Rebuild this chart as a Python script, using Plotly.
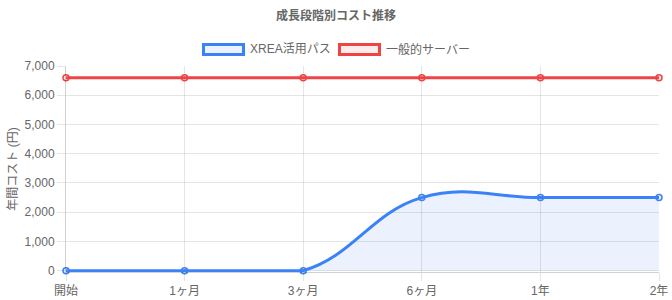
import plotly.graph_objects as go

categories = ["開始", "1ヶ月", "3ヶ月", "6ヶ月", "1年", "2年"]
xrea_cost = [0, 0, 0, 2500, 2500, 2500]
server_cost = [6600, 6600, 6600, 6600, 6600, 6600]
series_names = ["XREA活用パス", "一般的サーバー"]

BLUE = "#3b82f6"
RED = "#ef4444"
BLUE_BG = "rgba(59,130,246,0.1)"
RED_BG = "rgba(239,68,68,0.1)"
FONT = "'Liberation Sans', Arial, 'Noto Sans CJK JP', sans-serif"
GRID = "rgba(0,0,0,0.1)"

W, H = 672, 300
ML, MR, MT, MB = 66, 13, 66, 28
PW, PH = W - ML - MR, H - MT - MB


def px_x(px):
    return (px - ML) / PW


def px_y(py):
    return (H - MB - py) / PH


fig = go.Figure()

# smooth rising part of the XREA path (with area fill)
fig.add_trace(go.Scatter(
    x=categories[1:], y=xrea_cost[1:], mode="lines", name=series_names[0],
    line=dict(color=BLUE, width=3, shape="spline", smoothing=1.2),
    fill="tozeroy", fillcolor=BLUE_BG, showlegend=False, hoverinfo="skip",
))
# flat start of the XREA path
fig.add_trace(go.Scatter(
    x=categories[:3], y=xrea_cost[:3], mode="lines", name=series_names[0],
    line=dict(color=BLUE, width=3), showlegend=False, hoverinfo="skip",
))
# XREA points
fig.add_trace(go.Scatter(
    x=categories, y=xrea_cost, mode="markers", name=series_names[0],
    marker=dict(size=6, color=BLUE_BG, line=dict(color=BLUE, width=1.5)),
    showlegend=False, cliponaxis=False,
))
# general server
fig.add_trace(go.Scatter(
    x=categories, y=server_cost, mode="lines+markers", name=series_names[1],
    line=dict(color=RED, width=3, shape="spline", smoothing=1.2),
    marker=dict(size=6, color=RED_BG, line=dict(color=RED, width=1.5)),
    cliponaxis=False, showlegend=False,
))

# legend drawn as Chart.js-style boxes
legend_items = [
    (series_names[0], BLUE, BLUE_BG, 203.5, 249),
    (series_names[1], RED, RED_BG, 339.5, 385),
]
shapes, annotations = [], []
for name, col, bg, bx, tx in legend_items:
    shapes.append(dict(type="rect", xref="paper", yref="paper",
                       x0=px_x(bx), x1=px_x(bx + 40), y0=px_y(54.5), y1=px_y(44.5),
                       line=dict(color=col, width=3), fillcolor=bg, layer="above"))
    annotations.append(dict(text=name, xref="paper", yref="paper", x=px_x(tx), y=px_y(49.5),
                            xanchor="left", yanchor="middle", showarrow=False,
                            borderpad=0, font=dict(family=FONT, size=12, color="#666")))

fig.update_layout(
    width=W, height=H,
    margin=dict(l=ML, r=MR, t=MT, b=MB, autoexpand=False),
    paper_bgcolor="white", plot_bgcolor="white",
    font=dict(family=FONT, size=12, color="#666"),
    title=dict(text="成長段階別コスト推移", x=0.5, xref="container", xanchor="center",
               y=1 - 16 / H, yref="container", yanchor="middle",
               font=dict(family=FONT, size=12, color="#666", weight="bold")),
    showlegend=False,
    shapes=shapes, annotations=annotations,
)
fig.update_xaxes(
    type="category", categoryorder="array", categoryarray=categories,
    range=[0, 5], showgrid=True, gridcolor=GRID, gridwidth=1,
    showline=True, linecolor="rgba(0,0,0,0.18)", linewidth=1,
    ticks="outside", ticklen=8, tickcolor=GRID, tickfont=dict(size=12, color="#666"),
    zeroline=False,
)
fig.update_yaxes(
    range=[-45, 7000], tickmode="linear", tick0=0, dtick=1000, tickformat=",d",
    showgrid=True, gridcolor=GRID, gridwidth=1,
    showline=True, linecolor="rgba(0,0,0,0.18)", linewidth=1,
    ticks="outside", ticklen=8, tickcolor=GRID, tickfont=dict(size=12, color="#666"),
    zeroline=False,
    title=dict(text="年間コスト (円)", standoff=4, font=dict(size=12, color="#666")),
)

fig.write_html("out.html")
